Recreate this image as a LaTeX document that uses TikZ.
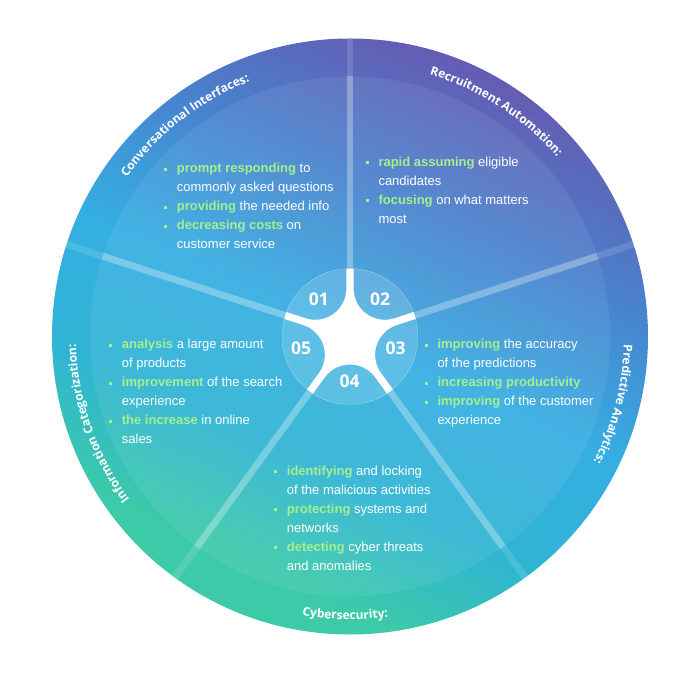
\documentclass[tikz,border=0pt]{standalone}
\usepackage{fontspec}
\setmainfont{Liberation Sans}
\newfontfamily\lblfont{Open Sans}
\usetikzlibrary{decorations.text}
\definecolor{purpleC}{HTML}{6A55AE}
\definecolor{purpleB}{HTML}{4A80CC}
\definecolor{blueC}{HTML}{35AEE2}
\definecolor{tealC}{HTML}{2FB4D4}
\definecolor{greenC}{HTML}{3CCAA8}
\definecolor{hlC}{HTML}{A3F08E}
\pgfdeclareverticalshading{ringshade}{100bp}{color(0bp)=(greenC); color(29bp)=(greenC); color(39bp)=(tealC); color(50bp)=(blueC); color(63bp)=(purpleB); color(77bp)=(purpleC); color(100bp)=(purpleC)}
\newcommand{\hlw}[1]{\textbf{\color{hlC}#1}}
\newcommand{\bulx}{\makebox[12.7pt][l]{\color{hlC}\rule[2pt]{3.2pt}{3.2pt}}}
\newcommand{\lblf}{\lblfont\bfseries\fontsize{12}{12}\selectfont}
\begin{document}
\begin{tikzpicture}[x=1pt,y=1pt,
  txt/.style={anchor=base west, inner sep=0pt, text=white, font=\fontsize{13}{19}\selectfont},
  numtxt/.style={inner sep=0pt, text=white, font=\lblfont\bfseries\fontsize{17.5}{18}\selectfont},
  divin/.style={draw=white, draw opacity=0.3, line width=6.8pt},
  divout/.style={draw=white, draw opacity=0.13, line width=6.8pt},
  arclabel/.style={decorate, decoration={text along path, text align=center, text color=white, text={|\lblf|#1}}}
]
\useasboundingbox (-350,-363.5) rectangle (350,336.5);
\fill[white] (-350,-363.5) rectangle (350,336.5);
% main disk
\coordinate (c) at (0,0);
\shade[shading=ringshade, shading angle=-25] (c) circle[radius=298];
\fill[white, fill opacity=0.07] (c) circle[radius=260];
% dividers
\foreach \a/\n in {90/a,18/b,-54/c,-126/d,162/e}{
  \coordinate (d\n0) at (\a:66);
  \coordinate (d\n1) at (\a:260);
  \coordinate (d\n2) at (\a:298);
  \draw[divin] (d\n0) -- (d\n1);
  \draw[divout] (d\n1) -- (d\n2);
}
% center disk
\fill[white, fill opacity=0.15] (c) circle[radius=68];
\fill[white, even odd rule] (c) circle[radius=68]
  \foreach \m in {126,54,-18,-90,198}{
    (\m+32.96:68) -- (\m+31.70:48.03) arc[start angle=\m+126, end angle=\m+234, radius=31.2]
    -- (\m-32.96:68) arc[start angle=\m-32.96, end angle=\m+32.96, radius=68] -- cycle
  };
% numbers
\node[numtxt] (n1) at (-31.2,36.8) {01};
\node[numtxt] (n2) at (30,36.8) {02};
\node[numtxt] (n3) at (45.5,-11.8) {03};
\node[numtxt] (n4) at (-0.5,-45.2) {04};
\node[numtxt] (n5) at (-48.8,-11.8) {05};
% arc labels
\path[arclabel={Conversational Interfaces:}] (173:274) arc[start angle=173, end angle=83, radius=274];
\path[arclabel={Recruitment Automation:}] (102:274) arc[start angle=102, end angle=12, radius=274];
\path[arclabel={Predictive Analytics:}] (30.5:274) arc[start angle=30.5, end angle=-59.5, radius=274];
\path[arclabel={Information Categorization:}] (244:274) arc[start angle=244, end angle=154, radius=274];
\path[arclabel={Cybersecurity:}] (-136:283) arc[start angle=-136, end angle=-46, radius=283];
% text blocks in image coordinates
\begin{scope}[shift={(-350,336.5)}, yscale=-1]
\node[txt] (t1) at (164,173) {\begin{tabular}[t]{@{}l@{}l@{}}
\bulx & \hlw{prompt responding} to\\
 & commonly asked questions\\
\bulx & \hlw{providing} the needed info\\
\bulx & \hlw{decreasing costs} on\\
 & customer service
\end{tabular}};
\node[txt] (t2) at (365.6,166.5) {\begin{tabular}[t]{@{}l@{}l@{}}
\bulx & \hlw{rapid assuming} eligible\\
 & candidates\\
\bulx & \hlw{focusing} on what matters\\
 & most
\end{tabular}};
\node[txt] (t3) at (424.6,349) {\begin{tabular}[t]{@{}l@{}l@{}}
\bulx & \hlw{improving} the accuracy\\
 & of the predictions\\
\bulx & \hlw{increasing productivity}\\
\bulx & \hlw{improving} of the customer\\
 & experience
\end{tabular}};
\node[txt] (t4) at (274,475.5) {\begin{tabular}[t]{@{}l@{}l@{}}
\bulx & \hlw{identifying} and locking\\
 & of the malicious activities\\
\bulx & \hlw{protecting} systems and\\
 & networks\\
\bulx & \hlw{detecting} cyber threats\\
 & and anomalies
\end{tabular}};
\node[txt] (t5) at (109,349) {\begin{tabular}[t]{@{}l@{}l@{}}
\bulx & \hlw{analysis} a large amount\\
 & of products\\
\bulx & \hlw{improvement} of the search\\
 & experience\\
\bulx & \hlw{the increase} in online\\
 & sales
\end{tabular}};
\end{scope}
\end{tikzpicture}
\end{document}
